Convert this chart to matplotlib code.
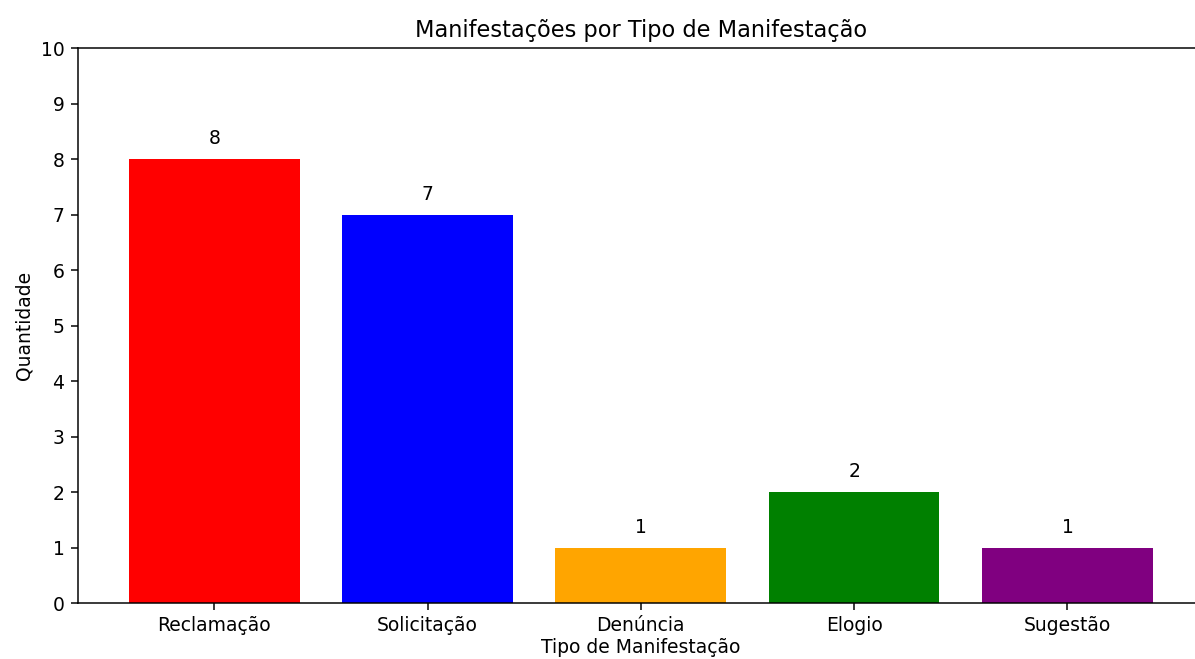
import matplotlib
matplotlib.use("Agg")
import matplotlib.pyplot as plt

tipos = ["Reclamação", "Solicitação", "Denúncia", "Elogio", "Sugestão"]
quantidades = [8, 7, 1, 2, 1]
cores = ["red", "blue", "orange", "green", "purple"]

# rendered at a larger dpi so text and lines come out the size of the reference
dpi = 135
fig = plt.figure(figsize=(1195 / dpi, 659 / dpi), dpi=dpi)
# the reference is cropped on the right, so the axes run slightly past the edge
ax = fig.add_axes([0.065, 0.0845, 0.9425, 0.842])

barras = ax.bar(tipos, quantidades, color=cores)
for b, q in zip(barras, quantidades):
    ax.text(b.get_x() + b.get_width() / 2, q + 0.2, str(q),
            ha="center", va="bottom", fontsize=10)

ax.set_ylim(0, 10)
ax.set_yticks(range(0, 11))
ax.set_title("Manifestações por Tipo de Manifestação", fontsize=12)
ax.set_xlabel("Tipo de Manifestação", labelpad=1.5)
ax.set_ylabel("Quantidade")

fig.savefig("out.png", dpi=dpi)
